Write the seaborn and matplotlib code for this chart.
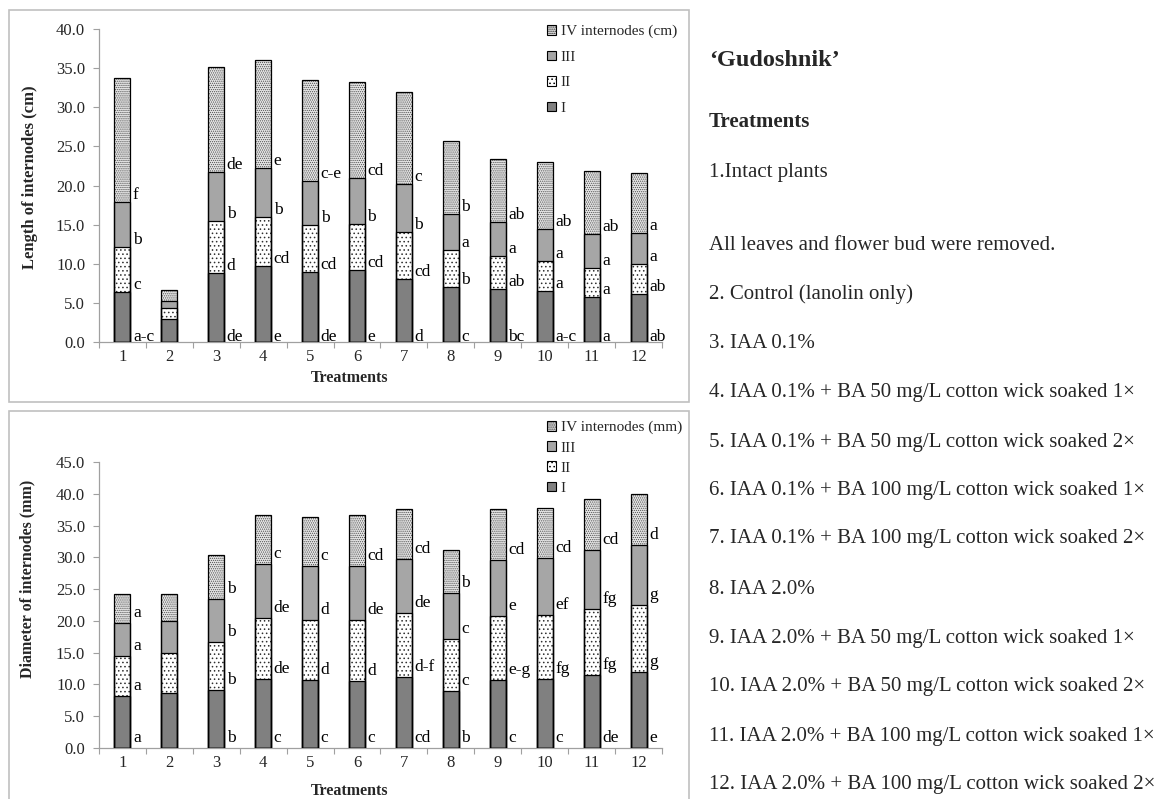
import numpy as np
import pandas as pd
import matplotlib
matplotlib.use("Agg")
import matplotlib.pyplot as plt
import seaborn as sns
from matplotlib.patches import Patch, Rectangle

# ---------------- data ----------------
treatments = [str(i) for i in range(1, 13)]

# Length of internodes (cm) - segment values
len_I = [6.4, 2.9, 8.8, 9.7, 8.9, 9.2, 8.0, 7.0, 6.8, 6.5, 5.8, 6.1]
len_II = [5.8, 1.5, 6.6, 6.3, 6.1, 5.9, 6.1, 4.8, 4.2, 3.9, 3.7, 3.9]
len_III = [5.7, 0.9, 6.3, 6.3, 5.6, 5.8, 6.1, 4.6, 4.3, 4.1, 4.3, 3.9]
len_IV = [15.8, 1.3, 13.4, 13.7, 12.9, 12.3, 11.7, 9.3, 8.1, 8.5, 8.1, 7.7]

len_let_I = ["a-c", "", "de", "e", "de", "e", "d", "c", "bc", "a-c", "a", "ab"]
len_let_II = ["c", "", "d", "cd", "cd", "cd", "cd", "b", "ab", "a", "a", "ab"]
len_let_III = ["b", "", "b", "b", "b", "b", "b", "a", "a", "a", "a", "a"]
len_let_IV = ["f", "", "de", "e", "c-e", "cd", "c", "b", "ab", "ab", "ab", "a"]

# Diameter of internodes (mm) - segment values
dia_I = [8.2, 8.6, 9.2, 10.8, 10.7, 10.6, 11.2, 9.0, 10.7, 10.8, 11.5, 11.9]
dia_II = [6.2, 6.3, 7.4, 9.6, 9.5, 9.5, 10.0, 8.1, 10.1, 10.1, 10.4, 10.6]
dia_III = [5.2, 5.1, 6.9, 8.6, 8.4, 8.6, 8.6, 7.3, 8.8, 9.0, 9.3, 9.4]
dia_IV = [4.6, 4.3, 6.9, 7.7, 7.7, 7.9, 7.8, 6.8, 8.0, 7.9, 7.9, 8.1]

dia_let_I = ["a", "", "b", "c", "c", "c", "cd", "b", "c", "c", "de", "e"]
dia_let_II = ["a", "", "b", "de", "d", "d", "d-f", "c", "e-g", "fg", "fg", "g"]
dia_let_III = ["a", "", "b", "de", "d", "de", "de", "c", "e", "ef", "fg", "g"]
dia_let_IV = ["a", "", "b", "c", "c", "cd", "cd", "b", "cd", "cd", "cd", "d"]

segment_names = ["I", "II", "III", "IV"]

right_texts = [
    "1.Intact plants",
    "All leaves and flower bud were removed.",
    "2. Control (lanolin only)",
    "3. IAA 0.1%",
    "4. IAA 0.1% + BA 50 mg/L cotton wick soaked 1\u00d7",
    "5. IAA 0.1% + BA 50 mg/L cotton wick soaked 2\u00d7",
    "6. IAA 0.1% + BA 100 mg/L cotton wick soaked 1\u00d7",
    "7. IAA 0.1% + BA 100 mg/L cotton wick soaked 2\u00d7",
    "8. IAA 2.0%",
    "9. IAA 2.0% + BA 50 mg/L cotton wick soaked 1\u00d7",
    "10. IAA 2.0% + BA 50 mg/L cotton wick soaked 2\u00d7",
    "11. IAA 2.0% + BA 100 mg/L cotton wick soaked 1\u00d7",
    "12. IAA 2.0% + BA 100 mg/L cotton wick soaked 2\u00d7",
]
right_text_y = [172, 246, 294, 343, 392, 442, 491, 539, 589, 638, 687, 737, 785]

# ---------------- style ----------------
sns.set_theme(style="white")
plt.rcParams["font.family"] = ["Liberation Serif", "DejaVu Serif"]
plt.rcParams["hatch.linewidth"] = 0.6

W, H = 1173, 799
fig = plt.figure(figsize=(W / 100, H / 100), dpi=100)

styles = {
    "I": dict(face="#808080", hatch=None, hcol="#808080"),
    "II": dict(face="white", hatch="....", hcol="#303030"),
    "III": dict(face="#a6a6a6", hatch=None, hcol="#a6a6a6"),
    "IV": dict(face="#e6e6e6", hatch="........", hcol="#505050"),
}
BAR_W = 0.34


def fx(px):
    return px / W


def fy(py):
    return 1 - py / H


def draw_chart(ax, segs, letters, ymax, legend_label, legend_pos,
               labelspacing, let_off_px, base_off_px):
    cum = np.cumsum(np.array(segs), axis=0)
    # draw from top segment down so lower segments cover the upper ones
    for k in range(3, -1, -1):
        name = segment_names[k]
        df = pd.DataFrame({"Treatment": treatments, "value": cum[k]})
        n0 = len(ax.patches)
        sns.barplot(data=df, x="Treatment", y="value", order=treatments,
                    width=BAR_W, ax=ax, color=styles[name]["face"],
                    errorbar=None, zorder=2)
        st = styles[name]
        for p in ax.patches[n0:]:
            p.set_facecolor(st["face"])
            p.set_edgecolor(st["hcol"])
            p.set_linewidth(0)
            if st["hatch"]:
                p.set_hatch(st["hatch"])
    # outlines
    for k in range(3, -1, -1):
        df = pd.DataFrame({"Treatment": treatments, "value": cum[k]})
        n0 = len(ax.patches)
        sns.barplot(data=df, x="Treatment", y="value", order=treatments,
                    width=BAR_W, ax=ax, color="white", errorbar=None, zorder=3)
        for p in ax.patches[n0:]:
            p.set_facecolor("none")
            p.set_edgecolor("black")
            p.set_linewidth(0.9)

    # letters
    bases = [np.zeros(12)] + [cum[k] for k in range(3)]
    for k in range(4):
        for i in range(12):
            t = letters[k][i]
            if not t:
                continue
            off = base_off_px if k == 0 else let_off_px
            ax.annotate(t, xy=(i + BAR_W / 2, bases[k][i]),
                        xytext=(2.5, off), textcoords="offset pixels",
                        ha="left", va="baseline", fontsize=12.5,
                        color="black", zorder=4)

    ax.set_xlim(-0.5, 11.5)
    ax.set_ylim(0, ymax)
    ax.set_yticks(np.arange(0, ymax + 0.1, 5))
    ax.set_yticklabels([f"{v:.1f}" for v in np.arange(0, ymax + 0.1, 5)])
    ax.set_xticks(range(12))
    ax.set_xticklabels(treatments)
    ax.set_xticks(np.arange(-0.5, 12, 1), minor=True)
    ax.tick_params(axis="x", which="major", length=0, pad=5, labelsize=12)
    ax.tick_params(axis="x", which="minor", length=4, width=0.8,
                   color="#a0a0a0", direction="out", bottom=True)
    ax.tick_params(axis="y", length=4, width=0.8, color="#a0a0a0",
                   direction="out", left=True, pad=6, labelsize=12)
    for s in ["top", "right"]:
        ax.spines[s].set_visible(False)
    for s in ["left", "bottom"]:
        ax.spines[s].set_color("#a0a0a0")
        ax.spines[s].set_linewidth(0.9)
    ax.set_xlabel("")
    ax.set_ylabel("")
    ax.patch.set_alpha(0)

    handles = []
    for name, lab in zip(["IV", "III", "II", "I"],
                         [legend_label, "III", "II", "I"]):
        st = styles[name]
        handles.append(Patch(facecolor=st["face"], edgecolor="black",
                             hatch=st["hatch"], linewidth=0.8, label=lab))
    ax.legend(handles=handles, loc="upper left",
              bbox_to_anchor=legend_pos, bbox_transform=fig.transFigure,
              frameon=False, fontsize=11, handlelength=0.6,
              handleheight=0.6, handletextpad=0.3,
              labelspacing=labelspacing, borderpad=0, borderaxespad=0)
    return ax


# frames
fig.patches.append(Rectangle((fx(9), fy(402)), fx(689) - fx(9), fy(10) - fy(402),
                             transform=fig.transFigure, fill=False,
                             edgecolor="#c0c0c0", linewidth=1.2, zorder=0))
fig.patches.append(Rectangle((fx(9), fy(805)), fx(689) - fx(9), fy(411) - fy(805),
                             transform=fig.transFigure, fill=False,
                             edgecolor="#c0c0c0", linewidth=1.2, zorder=0))

ax1 = fig.add_axes([fx(99), fy(342), fx(662) - fx(99), fy(29) - fy(342)])
draw_chart(ax1, [len_I, len_II, len_III, len_IV],
           [len_let_I, len_let_II, len_let_III, len_let_IV], 40,
           "IV internodes (cm)", (fx(547), fy(25)), 0.8, 3, 1)

ax2 = fig.add_axes([fx(99), fy(748), fx(662) - fx(99), fy(462) - fy(748)])
draw_chart(ax2, [dia_I, dia_II, dia_III, dia_IV],
           [dia_let_I, dia_let_II, dia_let_III, dia_let_IV], 45,
           "IV internodes (mm)", (fx(547), fy(421)), 0.45, 6, 6)

# axis labels
fig.text(fx(30), fy(177), "Length of internodes (cm)", rotation=90,
         ha="center", va="center", fontsize=12, fontweight="bold")
fig.text(fx(27), fy(579), "Diameter of internodes (mm)", rotation=90,
         ha="center", va="center", fontsize=11.5, fontweight="bold")
fig.text(fx(350), fy(378), "Treatments", ha="center", va="center",
         fontsize=11.5, fontweight="bold")
fig.text(fx(350), fy(791), "Treatments", ha="center", va="center",
         fontsize=11.5, fontweight="bold")

# right-side text
fig.text(fx(709), fy(61), "\u2018Gudoshnik\u2019", ha="left", va="center",
         fontsize=17.5, fontweight="bold")
fig.text(fx(709), fy(122), "Treatments", ha="left", va="center",
         fontsize=15, fontweight="bold")
for t, yy in zip(right_texts, right_text_y):
    fig.text(fx(709), fy(yy), t, ha="left", va="center", fontsize=15)

fig.savefig("out.png", dpi=100, facecolor="white")
